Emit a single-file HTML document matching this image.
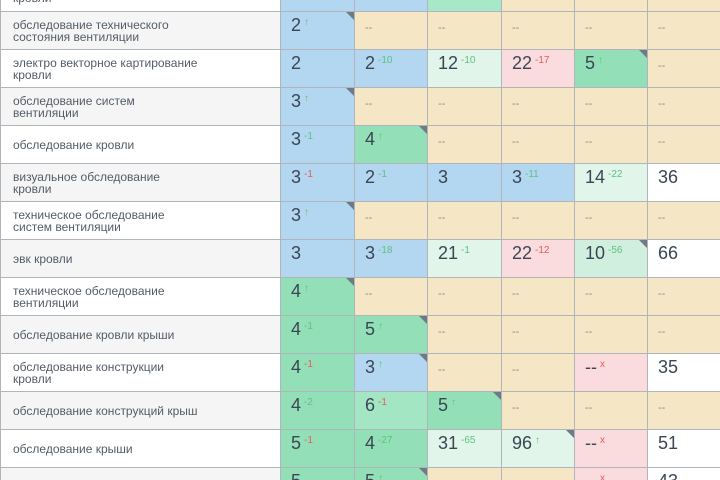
<!DOCTYPE html>
<html><head><meta charset="utf-8">
<style>
*{margin:0;padding:0;box-sizing:border-box}
html,body{width:720px;height:480px;overflow:hidden;background:#fff}
body{font-family:"Liberation Sans","DejaVu Sans",sans-serif}
#wrap{position:absolute;left:0;top:0;width:720px;height:480px;overflow:hidden}
.r{position:absolute;left:0;width:720px;height:38px}
.c{position:absolute;top:0;height:38px;border-top:1px solid #b1b5b9;border-left:1px solid #b1b5b9;overflow:hidden}
.c0{left:0;width:280px;display:flex;align-items:center;padding-left:12px;font-size:12px;line-height:12px;color:#535c66}
.c1{left:280px;width:74px}.c2{left:354px;width:73px}.c3{left:427px;width:74px}
.c4{left:501px;width:73px}.c5{left:574px;width:73px}.c6{left:647px;width:73px}
.gr{background:#f5f5f5}
.b{background:#b3d6f1}.g{background:#93e0b8}.g2{background:#a2e6c3}.g3{background:#a6e8c8}
.lg{background:#e1f5ea}.mg{background:#d0efdf}.p{background:#fadcdf}.y{background:#f5e6c5}.w{background:#fff}
.n{position:absolute;left:10px;top:2px;font-size:18px;line-height:22px;color:#3b4654;white-space:nowrap}
.s{font-size:10px;position:relative;top:-6px;margin-left:3px}
.sg{color:#5dc27f}.sr{color:#e45c5c}
.d{font-size:11px;color:#8c8c8c}
.k{position:absolute;top:0;right:0;width:0;height:0;border-top:8px solid #6e7a86;border-left:8px solid transparent}
.top .c{height:11px;border-top:none}
.top .lab{position:absolute;left:12px;top:-8px;font-size:12px;line-height:12px;color:#535c66;white-space:nowrap}
.bot{height:13px}
.bot .c{height:13px}
</style></head><body>
<div id="wrap">

<div class="r top" style="top:0;height:11px">
<div class="c c0" style="display:block;padding:0"><span class="lab">кровли</span></div>
<div class="c c1 b"></div><div class="c c2 b"></div><div class="c c3 g3"></div>
<div class="c c4 y"></div><div class="c c5 y"></div><div class="c c6 y"></div>
</div>

<div class="r" style="top:11px">
<div class="c c0 gr">обследование технического<br>состояния вентиляции</div>
<div class="c c1 b"><span class="n">2<span class="s sg">↑</span></span><i class="k"></i></div>
<div class="c c2 y"><span class="n"><span class="d">--</span></span></div>
<div class="c c3 y"><span class="n"><span class="d">--</span></span></div>
<div class="c c4 y"><span class="n"><span class="d">--</span></span></div>
<div class="c c5 y"><span class="n"><span class="d">--</span></span></div>
<div class="c c6 y"><span class="n"><span class="d">--</span></span></div>
</div>

<div class="r" style="top:49px">
<div class="c c0">электро векторное картирование<br>кровли</div>
<div class="c c1 b"><span class="n">2</span></div>
<div class="c c2 b"><span class="n">2<span class="s sg">-10</span></span></div>
<div class="c c3 lg"><span class="n">12<span class="s sg">-10</span></span></div>
<div class="c c4 p"><span class="n">22<span class="s sr">-17</span></span></div>
<div class="c c5 g"><span class="n">5<span class="s sg">↑</span></span><i class="k"></i></div>
<div class="c c6 y"><span class="n"><span class="d">--</span></span></div>
</div>

<div class="r" style="top:87px">
<div class="c c0 gr">обследование систем<br>вентиляции</div>
<div class="c c1 b"><span class="n">3<span class="s sg">↑</span></span><i class="k"></i></div>
<div class="c c2 y"><span class="n"><span class="d">--</span></span></div>
<div class="c c3 y"><span class="n"><span class="d">--</span></span></div>
<div class="c c4 y"><span class="n"><span class="d">--</span></span></div>
<div class="c c5 y"><span class="n"><span class="d">--</span></span></div>
<div class="c c6 y"><span class="n"><span class="d">--</span></span></div>
</div>

<div class="r" style="top:125px">
<div class="c c0">обследование кровли</div>
<div class="c c1 b"><span class="n">3<span class="s sg">-1</span></span></div>
<div class="c c2 g"><span class="n">4<span class="s sg">↑</span></span><i class="k"></i></div>
<div class="c c3 y"><span class="n"><span class="d">--</span></span></div>
<div class="c c4 y"><span class="n"><span class="d">--</span></span></div>
<div class="c c5 y"><span class="n"><span class="d">--</span></span></div>
<div class="c c6 y"><span class="n"><span class="d">--</span></span></div>
</div>

<div class="r" style="top:163px">
<div class="c c0 gr">визуальное обследование<br>кровли</div>
<div class="c c1 b"><span class="n">3<span class="s sr">-1</span></span></div>
<div class="c c2 b"><span class="n">2<span class="s sg">-1</span></span></div>
<div class="c c3 b"><span class="n">3</span></div>
<div class="c c4 b"><span class="n">3<span class="s sg">-11</span></span></div>
<div class="c c5 lg"><span class="n">14<span class="s sg">-22</span></span></div>
<div class="c c6 w"><span class="n">36</span></div>
</div>

<div class="r" style="top:201px">
<div class="c c0">техническое обследование<br>систем вентиляции</div>
<div class="c c1 b"><span class="n">3<span class="s sg">↑</span></span><i class="k"></i></div>
<div class="c c2 y"><span class="n"><span class="d">--</span></span></div>
<div class="c c3 y"><span class="n"><span class="d">--</span></span></div>
<div class="c c4 y"><span class="n"><span class="d">--</span></span></div>
<div class="c c5 y"><span class="n"><span class="d">--</span></span></div>
<div class="c c6 y"><span class="n"><span class="d">--</span></span></div>
</div>

<div class="r" style="top:239px">
<div class="c c0 gr">эвк кровли</div>
<div class="c c1 b"><span class="n">3</span></div>
<div class="c c2 b"><span class="n">3<span class="s sg">-18</span></span></div>
<div class="c c3 lg"><span class="n">21<span class="s sg">-1</span></span></div>
<div class="c c4 p"><span class="n">22<span class="s sr">-12</span></span></div>
<div class="c c5 mg"><span class="n">10<span class="s sg">-56</span></span><i class="k"></i></div>
<div class="c c6 w"><span class="n">66</span></div>
</div>

<div class="r" style="top:277px">
<div class="c c0">техническое обследование<br>вентиляции</div>
<div class="c c1 g"><span class="n">4<span class="s sg">↑</span></span><i class="k"></i></div>
<div class="c c2 y"><span class="n"><span class="d">--</span></span></div>
<div class="c c3 y"><span class="n"><span class="d">--</span></span></div>
<div class="c c4 y"><span class="n"><span class="d">--</span></span></div>
<div class="c c5 y"><span class="n"><span class="d">--</span></span></div>
<div class="c c6 y"><span class="n"><span class="d">--</span></span></div>
</div>

<div class="r" style="top:315px">
<div class="c c0 gr">обследование кровли крыши</div>
<div class="c c1 g"><span class="n">4<span class="s sg">-1</span></span></div>
<div class="c c2 g"><span class="n">5<span class="s sg">↑</span></span><i class="k"></i></div>
<div class="c c3 y"><span class="n"><span class="d">--</span></span></div>
<div class="c c4 y"><span class="n"><span class="d">--</span></span></div>
<div class="c c5 y"><span class="n"><span class="d">--</span></span></div>
<div class="c c6 y"><span class="n"><span class="d">--</span></span></div>
</div>

<div class="r" style="top:353px">
<div class="c c0">обследование конструкции<br>кровли</div>
<div class="c c1 g"><span class="n">4<span class="s sr">-1</span></span></div>
<div class="c c2 b"><span class="n">3<span class="s sg">↑</span></span><i class="k"></i></div>
<div class="c c3 y"><span class="n"><span class="d">--</span></span></div>
<div class="c c4 y"><span class="n"><span class="d">--</span></span></div>
<div class="c c5 p"><span class="n">--<span class="s sr">x</span></span></div>
<div class="c c6 w"><span class="n">35</span></div>
</div>

<div class="r" style="top:391px">
<div class="c c0 gr">обследование конструкций крыш</div>
<div class="c c1 g"><span class="n">4<span class="s sg">-2</span></span></div>
<div class="c c2 g2"><span class="n">6<span class="s sr">-1</span></span></div>
<div class="c c3 g"><span class="n">5<span class="s sg">↑</span></span><i class="k"></i></div>
<div class="c c4 y"><span class="n"><span class="d">--</span></span></div>
<div class="c c5 y"><span class="n"><span class="d">--</span></span></div>
<div class="c c6 y"><span class="n"><span class="d">--</span></span></div>
</div>

<div class="r" style="top:429px">
<div class="c c0">обследование крыши</div>
<div class="c c1 g"><span class="n">5<span class="s sr">-1</span></span></div>
<div class="c c2 g"><span class="n">4<span class="s sg">-27</span></span></div>
<div class="c c3 lg"><span class="n">31<span class="s sg">-65</span></span></div>
<div class="c c4 lg"><span class="n">96<span class="s sg">↑</span></span><i class="k"></i></div>
<div class="c c5 p"><span class="n">--<span class="s sr">x</span></span></div>
<div class="c c6 w"><span class="n">51</span></div>
</div>

<div class="r bot" style="top:467px">
<div class="c c0 gr"></div>
<div class="c c1 g"><span class="n">5</span></div>
<div class="c c2 g"><span class="n">5<span class="s sg">↑</span></span><i class="k"></i></div>
<div class="c c3 y"></div>
<div class="c c4 y"></div>
<div class="c c5 p"><span class="n">--<span class="s sr">x</span></span></div>
<div class="c c6 w"><span class="n">43</span></div>
</div>

</div>
</body></html>
